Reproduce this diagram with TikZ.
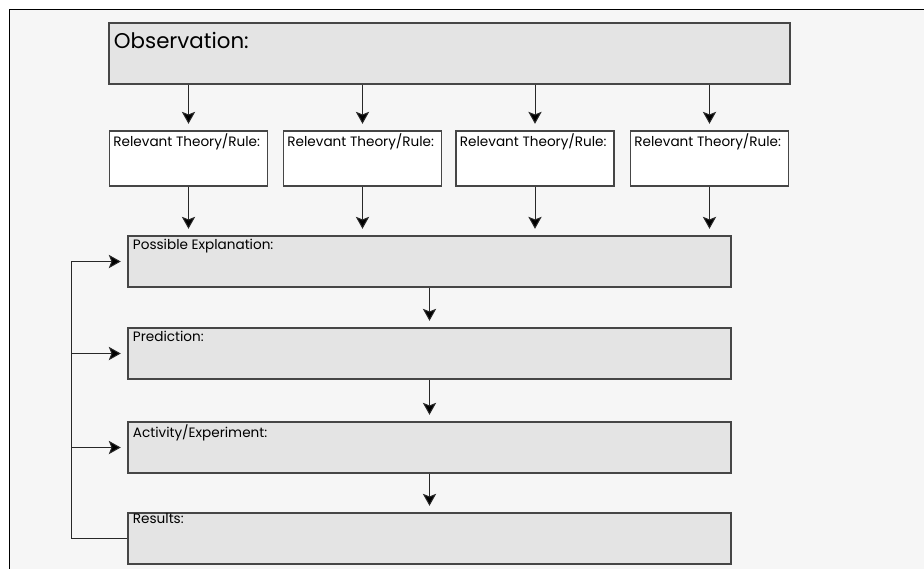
\documentclass[tikz,border=0pt]{standalone}
\usepackage{fontspec}
\setmainfont{Poppins}
\usetikzlibrary{arrows.meta}

\tikzset{every picture/.style={line width=0.75pt}}
\tikzset{
  panel/.style={draw={rgb,255:red,70;green,70;blue,70}, fill={rgb,255:red,228;green,228;blue,228}, line width=0.85pt, inner sep=0pt},
  rulebox/.style={draw={rgb,255:red,70;green,70;blue,70}, fill=white, line width=0.85pt, inner sep=0pt, minimum width=118.5pt, minimum height=41.25pt},
  stepbox/.style={panel, minimum width=452.25pt, minimum height=38.25pt},
  boxlabel/.style={anchor=north west, inner sep=0.75pt, font=\fontsize{10.2}{11}\selectfont},
  flow/.style={draw={rgb,255:red,40;green,40;blue,40}, shorten >=5pt, -{Stealth[length=9pt,width=10pt,inset=2pt,fill=black]}},
}

\begin{document}
\begin{tikzpicture}[x=0.75pt,y=0.75pt,yscale=-1,xscale=1]
\useasboundingbox (0,0) rectangle (924,569);

% sheet
\fill [color={rgb, 255:red, 246; green, 246; blue, 246 }] (9,9) rectangle (924,569);
\draw (924,9) -- (9,9) -- (9,569);

% observation
\node [panel, minimum width=510.75pt, minimum height=45.75pt] (obs) at (449.5,53.5) {};
\node [anchor=north west, inner sep=0.75pt, font=\fontsize{16}{18}\selectfont] at ([shift={(4,8)}]obs.north west) {Observation:};

% theories / rules
\node [rulebox] (rule1) at (188.5,158.5) {};
\node [rulebox] (rule2) at (362.5,158.5) {};
\node [rulebox] (rule3) at (535,158.5) {};
\node [rulebox] (rule4) at (709.5,158.5) {};
\foreach \i in {1,...,4} {
  \node [boxlabel] at ([shift={(3,2)}]rule\i.north west) {Relevant Theory/Rule:};
}

% scientific method steps
\node [stepbox] (expl) at (429.5,261.5) {};
\node [stepbox] (pred) at (429.5,353.5) {};
\node [stepbox] (expt) at (429.5,447.5) {};
\node [stepbox] (res) at (429.5,538.5) {};
\node [boxlabel] at ([shift={(4,2)}]expl.north west) {Possible Explanation:};
\node [boxlabel] at ([shift={(4,2)}]pred.north west) {Prediction:};
\node [boxlabel] at ([shift={(4,2)}]expt.north west) {Activity/Experiment:};
\node [boxlabel] at ([shift={(4,-1)}]res.north west) {Results:};

% arrows down
\foreach \i in {1,...,4} {
  \draw [flow] (obs.south -| rule\i.north) -- (rule\i.north);
  \draw [flow] (rule\i.south) -- (rule\i.south |- expl.north);
}
\draw [flow] (expl) -- (pred);
\draw [flow] (pred) -- (expt);
\draw [flow] (expt) -- (res);

% feedback loop on the left
\coordinate (looptop) at (71,261.5);
\coordinate (loopbot) at (71,538.5);
\draw [color={rgb, 255:red, 40; green, 40; blue, 40 }] (res.west) -- (loopbot) -- (looptop);
\draw [flow] (looptop) -- (expl.west);
\draw [flow] (looptop |- pred.west) -- (pred.west);
\draw [flow] (looptop |- expt.west) -- (expt.west);
\end{tikzpicture}
\end{document}
